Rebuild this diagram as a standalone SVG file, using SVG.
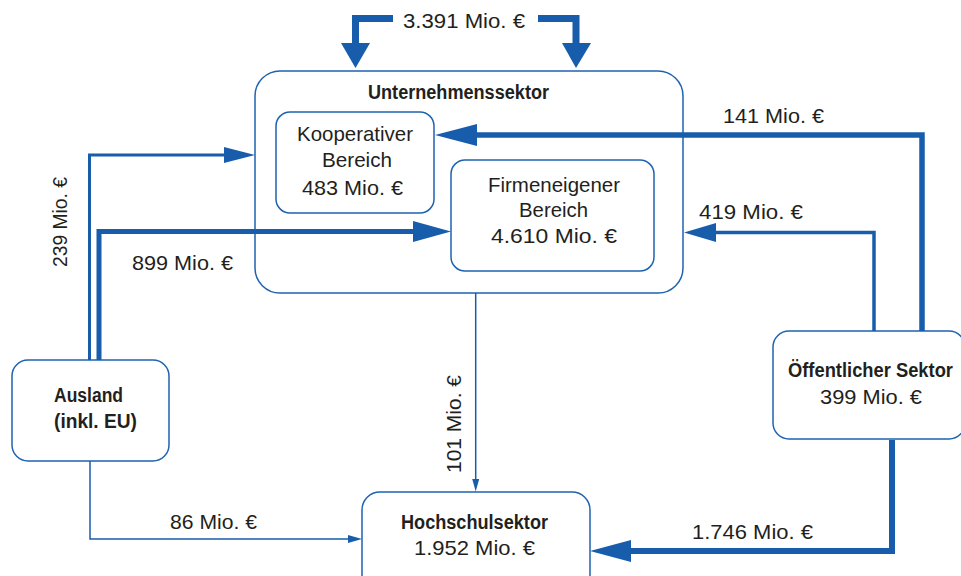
<svg xmlns="http://www.w3.org/2000/svg" width="961" height="576" viewBox="0 0 961 576">
<style>
.box{fill:#fff;stroke:#1f63b0;stroke-width:1.5}
.ln{fill:none;stroke:#175dab;stroke-linejoin:miter}
.hd{fill:#175dab}
.t{font-family:"Liberation Sans",Arial,sans-serif;font-size:21px;fill:#231f20}
.b{font-family:"Liberation Sans",Arial,sans-serif;font-size:20px;font-weight:bold;fill:#231f20}
</style>
<rect width="961" height="576" fill="#fff"/>
<g id="unternehmenssektor">
<rect class="box" x="255" y="71" width="428" height="222" rx="25"/>
<text class="b" x="368" y="99" textLength="181" lengthAdjust="spacingAndGlyphs">Unternehmenssektor</text>
</g>
<g id="kooperativer">
<rect class="box" x="276" y="112" width="158" height="101" rx="14"/>
<text class="t" x="297" y="141" textLength="116" lengthAdjust="spacingAndGlyphs">Kooperativer</text>
<text class="t" x="322" y="167" textLength="70" lengthAdjust="spacingAndGlyphs">Bereich</text>
<text class="t" x="302" y="195" textLength="101" lengthAdjust="spacingAndGlyphs">483 Mio. €</text>
</g>
<g id="firmeneigener">
<rect class="box" x="451" y="160" width="203" height="111" rx="14"/>
<text class="t" x="488" y="192" textLength="132" lengthAdjust="spacingAndGlyphs">Firmeneigener</text>
<text class="t" x="519" y="217" textLength="69" lengthAdjust="spacingAndGlyphs">Bereich</text>
<text class="t" x="491" y="243" textLength="126" lengthAdjust="spacingAndGlyphs">4.610 Mio. €</text>
</g>
<g id="ausland">
<rect class="box" x="12" y="360" width="157" height="101" rx="16"/>
<text class="b" x="54" y="402" textLength="69" lengthAdjust="spacingAndGlyphs">Ausland</text>
<text class="b" x="54" y="428" textLength="83" lengthAdjust="spacingAndGlyphs">(inkl. EU)</text>
</g>
<g id="oeffentlicher">
<rect class="box" x="773" y="331" width="192" height="108" rx="16"/>
<text class="b" x="788" y="377" textLength="165" lengthAdjust="spacingAndGlyphs">Öffentlicher Sektor</text>
<text class="t" x="820" y="404" textLength="102" lengthAdjust="spacingAndGlyphs">399 Mio. €</text>
</g>
<g id="hochschulsektor">
<rect class="box" x="362" y="492" width="228" height="100" rx="18"/>
<text class="b" x="401" y="529" textLength="147" lengthAdjust="spacingAndGlyphs">Hochschulsektor</text>
<text class="t" x="414" y="555" textLength="121" lengthAdjust="spacingAndGlyphs">1.952 Mio. €</text>
</g>
<g id="connectors">
<path class="ln" d="M393,18.5 H355.5 V44" stroke-width="7"/>
<polygon class="hd" points="341,43 370,43 355.5,68"/>
<path class="ln" d="M538,18.5 H576 V44" stroke-width="7"/>
<polygon class="hd" points="562,43 591,43 576,68"/>
<path class="ln" d="M89.5,360 V155 H226" stroke-width="3"/>
<polygon class="hd" points="224,147 224,163 255,155"/>
<path class="ln" d="M99,360 V231.5 H415" stroke-width="5"/>
<polygon class="hd" points="413,221 413,242 451,231.5"/>
<path class="ln" d="M922,331 V135 H475" stroke-width="5.5"/>
<polygon class="hd" points="477,124 477,146 435,135"/>
<path class="ln" d="M874,331 V232.5 H714" stroke-width="3.5"/>
<polygon class="hd" points="716,223 716,242 684,232.5"/>
<path class="ln" d="M475.7,293 V481" stroke-width="1.5"/>
<polygon class="hd" points="472.2,479 479.2,479 475.7,491.5"/>
<path class="ln" d="M90,461 V539 H350" stroke-width="1.5"/>
<polygon class="hd" points="348,535 348,543 362,539"/>
<path class="ln" d="M892,440 V551 H629" stroke-width="6"/>
<polygon class="hd" points="631,540 631,562 590,551"/>
</g>
<g id="labels">
<text class="t" x="403" y="28" textLength="122" lengthAdjust="spacingAndGlyphs">3.391 Mio. €</text>
<text class="t" x="723" y="123" textLength="101" lengthAdjust="spacingAndGlyphs">141 Mio. €</text>
<text class="t" x="699" y="219" textLength="104" lengthAdjust="spacingAndGlyphs">419 Mio. €</text>
<text class="t" x="132" y="270" textLength="101" lengthAdjust="spacingAndGlyphs">899 Mio. €</text>
<text class="t" transform="translate(67,267) rotate(-90)" textLength="90" lengthAdjust="spacingAndGlyphs">239 Mio. €</text>
<text class="t" transform="translate(461,473) rotate(-90)" textLength="98" lengthAdjust="spacingAndGlyphs">101 Mio. €</text>
<text class="t" x="170" y="529" textLength="87" lengthAdjust="spacingAndGlyphs">86 Mio. €</text>
<text class="t" x="692" y="539" textLength="121" lengthAdjust="spacingAndGlyphs">1.746 Mio. €</text>
</g>
</svg>
